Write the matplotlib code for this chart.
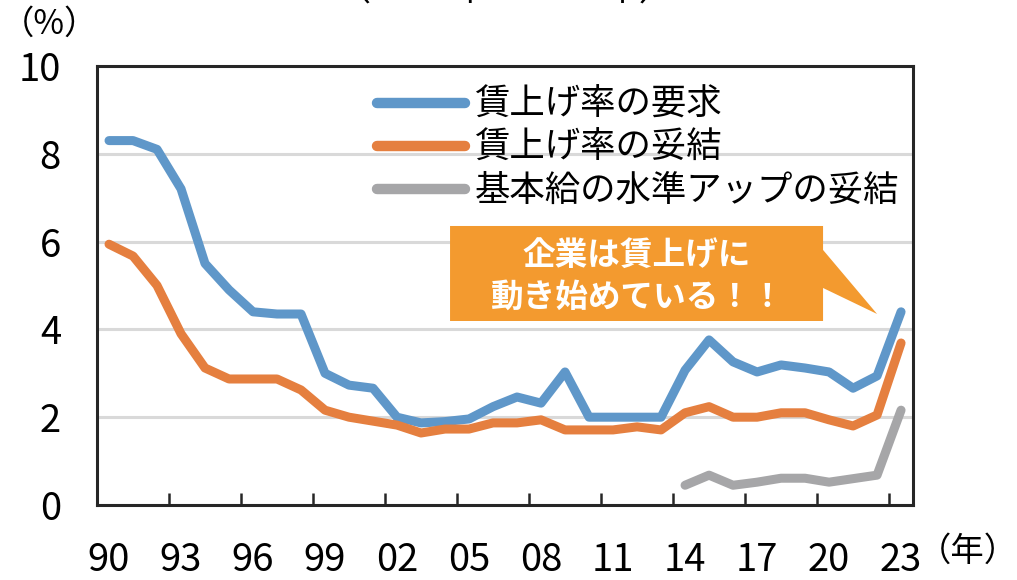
import numpy as np
import matplotlib.pyplot as plt
from matplotlib.patches import Polygon

plt.rcParams['font.family'] = ['Noto Sans CJK JP', 'DejaVu Sans']

# Data (1990-2023)
years = list(range(1990, 2024))
demand = [8.3, 8.3, 8.1, 7.2, 5.5, 4.9, 4.4, 4.35, 4.35, 3.0,
          2.73, 2.66, 2.0, 1.87, 1.9, 1.96, 2.24, 2.46, 2.32, 3.03,
          2.0, 2.0, 2.0, 2.0, 3.07, 3.76, 3.26, 3.03, 3.19, 3.12,
          3.03, 2.66, 2.94, 4.4]
settled = [5.94, 5.67, 5.0, 3.9, 3.12, 2.87, 2.87, 2.87, 2.62, 2.16,
           2.0, 1.91, 1.82, 1.64, 1.73, 1.73, 1.87, 1.87, 1.94, 1.71,
           1.71, 1.71, 1.78, 1.71, 2.1, 2.24, 2.0, 2.0, 2.1, 2.1,
           1.94, 1.8, 2.05, 3.69]
base_years = list(range(2014, 2024))
base_up = [0.45, 0.68, 0.45, 0.52, 0.61, 0.61, 0.52, 0.6, 0.68, 2.16]

labels = ['賃上げ率の要求', '賃上げ率の妥結', '基本給の水準アップの妥結']
colors = ['#5f97c9', '#e57f3f', '#a6a6a8']

x = np.arange(len(years))
xb = np.array([years.index(y) for y in base_years])

fig = plt.figure(figsize=(10.17, 5.8), dpi=100)
ax = fig.add_axes([0.0954, 0.1293, 0.8024, 0.757])

lw = 6.5
ax.plot(x, demand, color=colors[0], lw=lw, solid_capstyle='round',
        solid_joinstyle='round', label=labels[0], zorder=3)
ax.plot(x, settled, color=colors[1], lw=lw, solid_capstyle='round',
        solid_joinstyle='round', label=labels[1], zorder=3)
ax.plot(xb, base_up, color=colors[2], lw=lw, solid_capstyle='round',
        solid_joinstyle='round', label=labels[2], zorder=3)

ax.set_xlim(-0.5, len(years) - 0.5)
ax.set_ylim(0, 10)
ax.set_yticks([0, 2, 4, 6, 8, 10])
ax.set_yticklabels(['0', '2', '4', '6', '8', '10'])
ax.yaxis.grid(True, color='#d9d9d9', lw=2.2)
ax.set_axisbelow(True)

lab_idx = x[::3]
ax.set_xticks(lab_idx)
ax.set_xticklabels([str(years[i])[-2:] for i in lab_idx])
ax.set_xticks(lab_idx[1:] - 0.5, minor=True)
ax.tick_params(axis='x', which='major', length=0, pad=26, labelsize=27.5)
ax.tick_params(axis='x', which='minor', direction='in', length=8.5,
               width=1.8, color='#262626')
ax.tick_params(axis='y', length=0, pad=26, labelsize=27.5)

for s in ax.spines.values():
    s.set_linewidth(2.2)
    s.set_color('#262626')

leg = ax.legend(loc='upper left', bbox_to_anchor=(0.343, 0.952),
                frameon=False, fontsize=25.5, handlelength=2.5,
                handletextpad=0.25, labelspacing=0.2, borderpad=0,
                borderaxespad=0)
for h in leg.get_lines():
    h.set_linewidth(7.5)
    h.set_solid_capstyle('round')

# callout
pts = [(0.4326, 0.6355), (0.8897, 0.6355), (0.8897, 0.5809),
       (0.9559, 0.4351), (0.8897, 0.4943), (0.8897, 0.4191),
       (0.4326, 0.4191)]
ax.add_patch(Polygon(pts, closed=True, transform=ax.transAxes,
                     facecolor='#f39a2f', edgecolor='none', zorder=4))
ax.text(0.661, 0.5695, '企業は賃上げに', transform=ax.transAxes,
        ha='center', va='center', color='white', fontsize=23.5,
        fontweight='bold', zorder=5)
ax.text(0.661, 0.474, '動き始めている！！', transform=ax.transAxes,
        ha='center', va='center', color='white', fontsize=23.5,
        fontweight='bold', zorder=5)

fig.text(50 / 1017, 1 - 24 / 580, '（%）', ha='center', va='center',
         fontsize=24)
fig.text(968 / 1017, 1 - 551 / 580, '（年）', ha='center', va='center',
         fontsize=24)
fig.text(505 / 1017, 1 - 1 / 580, '（1990年～2023年）', ha='center',
         va='baseline', fontsize=26)

fig.savefig('out.png', dpi=100)
